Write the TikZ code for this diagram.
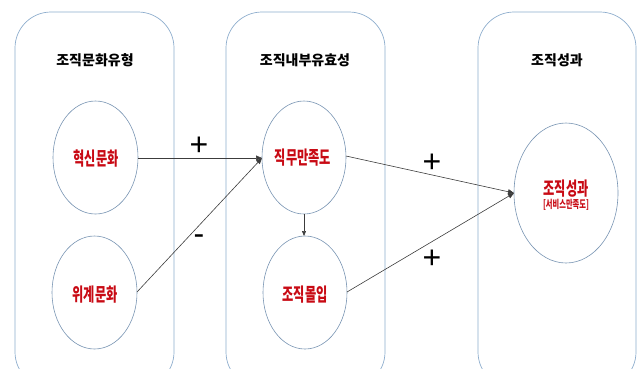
\documentclass[tikz,border=0pt]{standalone}
\usepackage{fontspec}
\usetikzlibrary{arrows.meta}
\newfontfamily\krtitle{Noto Sans CJK KR}
\newfontfamily\krred[FakeStretch=0.66]{Noto Sans CJK KR}
\newfontfamily\plusfont{Liberation Sans}
\definecolor{boxline}{RGB}{140,172,204}
\definecolor{ellline}{RGB}{120,148,178}
\definecolor{redtxt}{RGB}{200,10,20}
\definecolor{arrline}{RGB}{60,60,60}
\tikzset{
  groupbox/.style={draw=boxline, line width=0.7pt, rounded corners=36pt},
  grouptitle/.style={font=\krtitle\bfseries\fontsize{14}{16}\selectfont, text=black, inner sep=0pt},
  concept/.style={draw=ellline, line width=0.6pt},
  redlabel/.style={font=\krred\bfseries\fontsize{18.5}{20}\selectfont, text=redtxt, inner sep=0pt},
  conn/.style={draw=arrline, line width=0.6pt, -{Triangle[length=6pt,width=5pt]}},
  signlabel/.style={font=\plusfont\fontsize{32}{32}\selectfont, text=black, inner sep=0pt}
}
\begin{document}
\begin{tikzpicture}[x=1pt,y=-1pt]
\useasboundingbox (0,0) rectangle (640,368);
\clip (0,0) rectangle (640,368);
% group boxes
\draw[groupbox] (15,12) rectangle (174,388);
\draw[groupbox] (226,12) rectangle (385,388);
\draw[groupbox] (478,12) rectangle (636,388);
% titles
\node[grouptitle] (t1) at (95,60) {조직문화유형};
\node[grouptitle] (t2) at (305,60) {조직내부유효성};
\node[grouptitle] (t3) at (557,60) {조직성과};
% ellipses
\draw[concept] (95.5,157.5) ellipse [x radius=42.5, y radius=56.5];
\draw[concept] (94.5,292.5) ellipse [x radius=42.5, y radius=56.5];
\draw[concept] (304,157.5) ellipse [x radius=42, y radius=56.5];
\draw[concept] (305,292.5) ellipse [x radius=42, y radius=56.5];
\draw[concept] (566,193) ellipse [x radius=52, y radius=70];
% anchor coordinates on ellipses
\coordinate (h1R) at (138,158);
\coordinate (h2R) at (137,292);
\coordinate (j1L) at (262,158);
\coordinate (j1R) at (346,156);
\coordinate (j1B) at (304,214);
\coordinate (j2T) at (304,236);
\coordinate (j2R) at (347,292);
\coordinate (pL) at (514,193);
% labels
\node[redlabel] (n1) at (96,159) {혁신문화};
\node[redlabel] (n2) at (95,295) {위계문화};
\node[redlabel] (n3) at (303,158) {직무만족도};
\node[redlabel] (n4) at (305,295) {조직몰입};
\node[redlabel] (n5) at (566,189) {조직성과};
\node[font=\krred\bfseries\fontsize{11}{12}\selectfont, text=redtxt, inner sep=0pt] (n6) at (566,205) {[서비스만족도]};
% connectors
\draw[conn] (h1R) -- (j1L);
\draw[conn] (h2R) -- (j1L);
\draw[conn] (j1R) -- (pL);
\draw[conn] (j2R) -- (pL);
\draw[draw=arrline, line width=0.6pt, -{Triangle[length=5pt,width=4pt]}] (j1B) -- (j2T);
% signs
\node[signlabel] (s1) at (199,146) {+};
\node[signlabel] (s2) at (199,240) {-};
\node[signlabel] (s3) at (432,163) {+};
\node[signlabel] (s4) at (432,259) {+};
\end{tikzpicture}
\end{document}
